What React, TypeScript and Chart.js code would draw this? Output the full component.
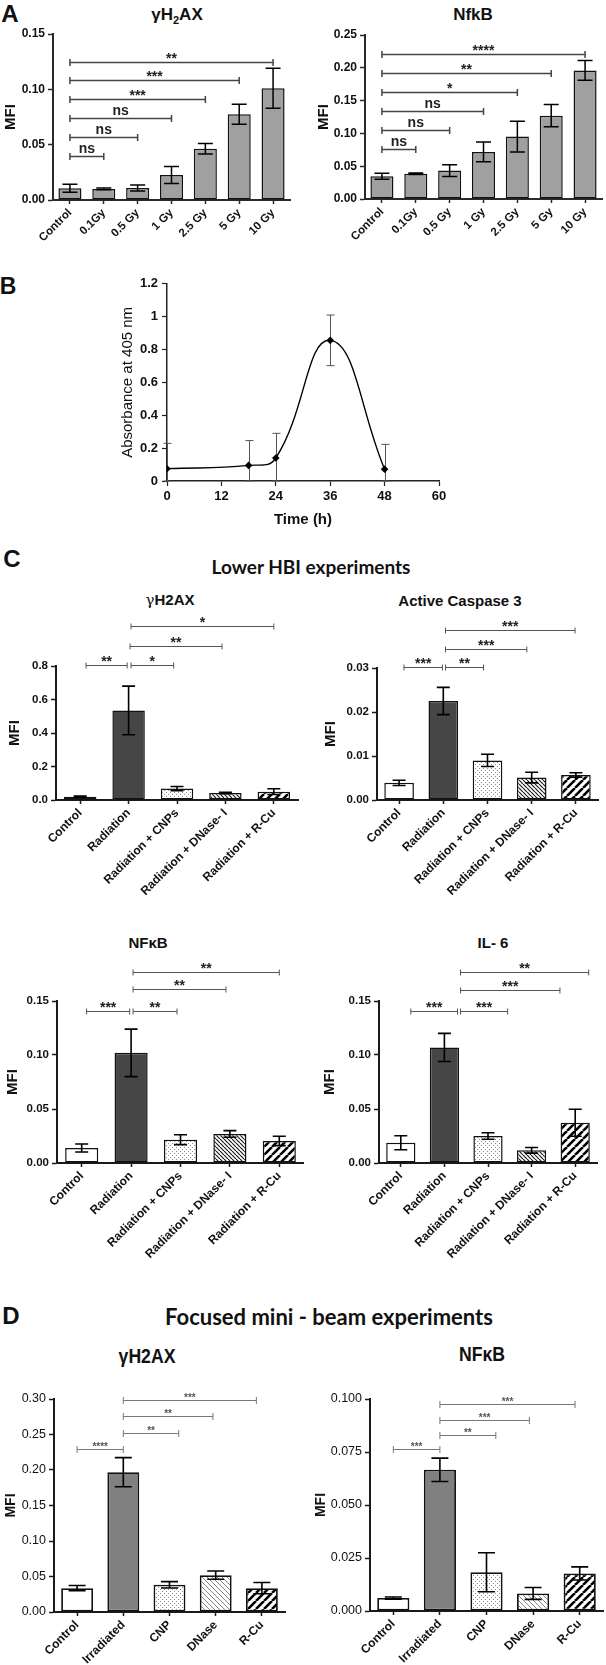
import React, { useEffect, useRef } from "react";
import { Chart, registerables } from "chart.js";

Chart.register(...registerables);

type Sig = [number, number, number, string];

// ===== Panel A data =====
const A_DOSES = ["Control", "0.1Gy", "0.5 Gy", "1 Gy", "2.5 Gy", "5 Gy", "10 Gy"];
const A_H2AX_MFI = [0.0106, 0.01, 0.0108, 0.0225, 0.0463, 0.0775, 0.101];
const A_H2AX_SEM = [0.0036, 0.0008, 0.0027, 0.0077, 0.0047, 0.009, 0.018];
const A_H2AX_YTICKS = ["0.00", "0.05", "0.10", "0.15"];
const A_H2AX_SIG: Sig[] = [
  [0, 1, 0.04, "ns"],
  [0, 2, 0.057, "ns"],
  [0, 3, 0.074, "ns"],
  [0, 4, 0.0915, "***"],
  [0, 5, 0.1085, "***"],
  [0, 6, 0.125, "**"],
];
const A_NFKB_MFI = [0.0346, 0.0385, 0.0433, 0.0718, 0.0952, 0.127, 0.196];
const A_NFKB_SEM = [0.0045, 0.001, 0.009, 0.015, 0.0235, 0.017, 0.015];
const A_NFKB_YTICKS = ["0.00", "0.05", "0.10", "0.15", "0.20", "0.25"];
const A_NFKB_SIG: Sig[] = [
  [0, 1, 0.0764, "ns"],
  [0, 2, 0.105, "ns"],
  [0, 3, 0.134, "ns"],
  [0, 4, 0.163, "*"],
  [0, 5, 0.1925, "**"],
  [0, 6, 0.2205, "****"],
];

// ===== Panel B data =====
const B_TIME_H = [0, 18, 24, 36, 48];
const B_ABSORBANCE = [0.075, 0.095, 0.14, 0.856, 0.072];
const B_ABS_ERR = [0.154, 0.151, 0.15, 0.154, 0.151];
const B_XTICKS = ["0", "12", "24", "36", "48", "60"];
const B_YTICKS = ["0", "0.2", "0.4", "0.6", "0.8", "1", "1.2"];

// ===== Panel C data =====
const C_GROUPS = ["Control", "Radiation", "Radiation + CNPs", "Radiation + DNase- I", "Radiation + R-Cu"];
const C_H2AX_MFI = [0.02, 0.535, 0.068, 0.042, 0.05];
const C_H2AX_SEM = [0.004, 0.145, 0.013, 0.004, 0.017];
const C_H2AX_YTICKS = ["0.0", "0.2", "0.4", "0.6", "0.8"];
const C_H2AX_SIG: Sig[] = [
  [0.12, 0.97, 0.806, "**"],
  [1.05, 1.93, 0.806, "*"],
  [1.03, 2.93, 0.922, "**"],
  [1.05, 4.0, 1.041, "*"],
];
const C_CASP3_MFI = [0.0039, 0.0225, 0.009, 0.0051, 0.0057];
const C_CASP3_SEM = [0.0006, 0.0031, 0.0014, 0.0012, 0.0005];
const C_CASP3_YTICKS = ["0.00", "0.01", "0.02", "0.03"];
const C_CASP3_SIG: Sig[] = [
  [0.11, 0.98, 0.0302, "***"],
  [1.05, 1.91, 0.0302, "**"],
  [1.05, 2.89, 0.0343, "***"],
  [1.05, 3.98, 0.0387, "***"],
];
const C_NFKB_MFI = [0.0139, 0.102, 0.0216, 0.0269, 0.0204];
const C_NFKB_SEM = [0.0037, 0.022, 0.0046, 0.0031, 0.0043];
const C_NFKB_YTICKS = ["0.00", "0.05", "0.10", "0.15"];
const C_NFKB_SIG: Sig[] = [
  [0.1, 0.97, 0.141, "***"],
  [1.04, 1.93, 0.141, "**"],
  [1.04, 2.92, 0.161, "**"],
  [1.04, 4.0, 0.177, "**"],
];
const C_IL6_MFI = [0.0188, 0.107, 0.025, 0.0117, 0.0373];
const C_IL6_SEM = [0.0065, 0.013, 0.003, 0.0026, 0.0125];
const C_IL6_YTICKS = ["0.00", "0.05", "0.10", "0.15"];
const C_IL6_SIG: Sig[] = [
  [0.23, 1.3, 0.141, "***"],
  [1.37, 2.45, 0.141, "***"],
  [1.37, 3.65, 0.16, "***"],
  [1.37, 4.31, 0.177, "**"],
];

// ===== Panel D data =====
const D_GROUPS = ["Control", "Irradiated", "CNP", "DNase", "R-Cu"];
const D_H2AX_MFI = [0.0336, 0.197, 0.0383, 0.0519, 0.0336];
const D_H2AX_SEM = [0.0037, 0.0205, 0.0045, 0.0058, 0.008];
const D_H2AX_YTICKS = ["0.00", "0.05", "0.10", "0.15", "0.20", "0.25", "0.30"];
const D_H2AX_SIG: Sig[] = [
  [0, 1, 0.23, "****"],
  [1, 2.2, 0.252, "**"],
  [1, 2.94, 0.276, "**"],
  [1, 3.88, 0.299, "***"],
];
const D_NFKB_MFI = [0.0061, 0.0666, 0.0183, 0.0083, 0.0177];
const D_NFKB_SEM = [0.0005, 0.0055, 0.0092, 0.0028, 0.0031];
const D_NFKB_YTICKS = ["0.000", "0.025", "0.050", "0.075", "0.100"];
const D_NFKB_SIG: Sig[] = [
  [0, 1, 0.0765, "***"],
  [1, 2.2, 0.0832, "**"],
  [1, 2.92, 0.09, "***"],
  [1, 3.9, 0.0976, "***"],
];

// ===== Styles =====
const SANS = '"Liberation Sans", Arial, sans-serif';
const NARROW = '"Liberation Sans Narrow", "Liberation Sans", Arial, sans-serif';
const LATO = 'Lato, "Open Sans", sans-serif';

const A_FILLS = ["grey", "grey", "grey", "grey", "grey", "grey", "grey"];
const C_FILLS = ["white", "dark", "dots", "hatchDense", "hatchBold"];
const D_FILLS = ["white", "mid", "dots", "hatchLight", "hatchBold"];

function makeFill(key: string): any {
  if (key === "grey") return "#a0a0a0";
  if (key === "white") return "#ffffff";
  if (key === "dark") return "#464646";
  if (key === "mid") return "#808080";
  const s = key === "dots" ? 4 : key === "hatchDense" ? 4 : key === "hatchLight" ? 5 : 8;
  const c = document.createElement("canvas");
  c.width = s;
  c.height = s;
  const g = c.getContext("2d")!;
  g.fillStyle = "#fff";
  g.fillRect(0, 0, s, s);
  if (key === "dots") {
    g.fillStyle = "#8c8c8c";
    g.fillRect(0, 0, 1, 1);
    g.fillRect(2, 2, 1, 1);
  } else {
    const back = key !== "hatchBold";
    g.strokeStyle = key === "hatchDense" ? "#1c1c1c" : key === "hatchLight" ? "#858585" : "#000";
    g.lineWidth = key === "hatchDense" ? 1.2 : key === "hatchLight" ? 1 : 2.6;
    g.beginPath();
    for (let k = -1; k <= 1; k++) {
      if (back) {
        g.moveTo(k * s, 0);
        g.lineTo(k * s + s, s);
      } else {
        g.moveTo(k * s, s);
        g.lineTo(k * s + s, 0);
      }
    }
    g.stroke();
  }
  return g.createPattern(c, "repeat");
}

type BarStyle = {
  plot: [number, number, number, number];
  yW: number;
  padTop: number;
  padRight: number;
  xH: number;
  yTitleX: number;
  yTickFont: any;
  xTickFont: any;
  yTitleFont: any;
  barPct: number;
  barBorder: number;
  axisW: number;
  axisColor: string;
  capW: number;
  errW: number;
  sigLine: string;
  sigW: number;
  sigText: string;
  sigFont: string;
  sigTick: number;
  sigLift: number;
  nsLift: number;
};

const A_BASE = {
  yTickFont: { family: SANS, weight: "bold", size: 12 },
  xTickFont: { family: SANS, weight: "bold", size: 11.5 },
  yTitleFont: { family: SANS, weight: "bold", size: 15 },
  barPct: 0.68,
  barBorder: 1.5,
  axisW: 2,
  axisColor: "#2a2a2a",
  capW: 15,
  errW: 1.5,
  sigLine: "#444",
  sigW: 1.5,
  sigText: "#222",
  sigFont: `bold 14px ${SANS}`,
  sigTick: 3.5,
  sigLift: 0,
  nsLift: 4,
};
const C_BASE = {
  yTickFont: { family: SANS, weight: "bold", size: 11.5 },
  xTickFont: { family: SANS, weight: "bold", size: 12 },
  yTitleFont: { family: SANS, weight: "bold", size: 15 },
  barPct: 0.67,
  barBorder: 1.5,
  axisW: 2,
  axisColor: "#1a1a1a",
  capW: 13,
  errW: 1.6,
  sigLine: "#555",
  sigW: 1,
  sigText: "#222",
  sigFont: `bold 14px ${SANS}`,
  sigTick: 3,
  sigLift: 0,
  nsLift: 4,
};
const D_BASE = {
  yTickFont: { family: SANS, weight: "normal", size: 12.5 },
  xTickFont: { family: SANS, weight: "bold", size: 12 },
  yTitleFont: { family: SANS, weight: "bold", size: 14 },
  barPct: 0.69,
  barBorder: 1.8,
  axisW: 2,
  axisColor: "#1a1a1a",
  capW: 17,
  errW: 1.6,
  sigLine: "#777",
  sigW: 1,
  sigText: "#555",
  sigFont: `bold 10px ${SANS}`,
  sigTick: 3.5,
  sigLift: 0,
  nsLift: 3,
};

const ST_A1: BarStyle = { ...A_BASE, plot: [53, 34, 290, 200], yW: 53, padTop: 12, padRight: 8, xH: 50, yTitleX: 11 } as BarStyle;
const ST_A2: BarStyle = { ...A_BASE, plot: [365, 35, 602, 199], yW: 60, padTop: 12, padRight: 4, xH: 50, yTitleX: 324 } as BarStyle;
const ST_C1: BarStyle = { ...C_BASE, plot: [56, 666, 298, 800], yW: 56, padTop: 56, padRight: 5, xH: 100, yTitleX: 15 } as BarStyle;
const ST_C2: BarStyle = { ...C_BASE, plot: [377, 668, 598, 800], yW: 74, padTop: 56, padRight: 6, xH: 100, yTitleX: 331 } as BarStyle;
const ST_C3: BarStyle = { ...C_BASE, plot: [57, 1001, 304, 1163], yW: 57, padTop: 46, padRight: 0, xH: 100, yTitleX: 13 } as BarStyle;
const ST_C4: BarStyle = { ...C_BASE, plot: [379, 1001, 597, 1163], yW: 76, padTop: 46, padRight: 8, xH: 100, yTitleX: 330 } as BarStyle;
const ST_D1: BarStyle = { ...D_BASE, plot: [54, 1399, 285, 1612], yW: 54, padTop: 14, padRight: 10, xH: 52, yTitleX: 11 } as BarStyle;
const ST_D2: BarStyle = { ...D_BASE, plot: [370, 1399, 603, 1611], yW: 67, padTop: 14, padRight: 3, xH: 53, yTitleX: 321 } as BarStyle;

function BarChart(props: {
  labels: string[];
  values: number[];
  sem: number[];
  yTicks: string[];
  sig: Sig[];
  fills: string[];
  st: BarStyle;
}) {
  const { labels, values, sem, yTicks, sig, fills, st } = props;
  const ref = useRef<HTMLCanvasElement>(null);
  const [L, T, R, B] = st.plot;
  const left = L - st.yW;
  const top = T - st.padTop;
  const w = R - L + st.yW + st.padRight;
  const h = B - T + st.padTop + st.xH;

  useEffect(() => {
    const canvas = ref.current!;
    const bg = fills.map(makeFill);
    const yMax = parseFloat(yTicks[yTicks.length - 1]);
    const lh = st.yTitleFont.size * 1.2;
    const overlay = {
      id: "overlay",
      afterDatasetsDraw(chart: any) {
        const ctx = chart.ctx;
        const xs = chart.scales.x;
        const ys = chart.scales.y;
        ctx.save();
        ctx.strokeStyle = "#000";
        ctx.lineWidth = st.errW;
        values.forEach((v, i) => {
          const px = xs.getPixelForValue(i);
          const pHi = ys.getPixelForValue(v + sem[i]);
          const pLo = ys.getPixelForValue(Math.max(0, v - sem[i]));
          const hc = st.capW / 2;
          ctx.beginPath();
          ctx.moveTo(px, pHi);
          ctx.lineTo(px, pLo);
          ctx.moveTo(px - hc, pHi);
          ctx.lineTo(px + hc, pHi);
          ctx.moveTo(px - hc, pLo);
          ctx.lineTo(px + hc, pLo);
          ctx.stroke();
        });
        ctx.strokeStyle = st.sigLine;
        ctx.lineWidth = st.sigW;
        ctx.fillStyle = st.sigText;
        ctx.font = st.sigFont;
        ctx.textAlign = "center";
        ctx.textBaseline = "alphabetic";
        sig.forEach(([a, b, yv, lab]) => {
          const x1 = xs.getPixelForValue(a);
          const x2 = xs.getPixelForValue(b);
          const py = Math.round(ys.getPixelForValue(yv)) + 0.5;
          ctx.beginPath();
          ctx.moveTo(x1, py);
          ctx.lineTo(x2, py);
          ctx.moveTo(x1, py - st.sigTick);
          ctx.lineTo(x1, py + st.sigTick);
          ctx.moveTo(x2, py - st.sigTick);
          ctx.lineTo(x2, py + st.sigTick);
          ctx.stroke();
          const lift = lab === "ns" ? st.nsLift : st.sigLift;
          ctx.fillText(lab, (x1 + x2) / 2, py - lift);
        });
        ctx.restore();
      },
    };
    const chart = new Chart(canvas, {
      type: "bar",
      data: {
        labels,
        datasets: [
          {
            data: values,
            backgroundColor: bg,
            borderColor: "#111",
            borderWidth: st.barBorder,
            borderSkipped: false,
            barPercentage: st.barPct,
            categoryPercentage: 1,
          } as any,
        ],
      },
      options: {
        responsive: false,
        animation: false,
        devicePixelRatio: 1,
        layout: { padding: { top: st.padTop, right: st.padRight, left: 0, bottom: 0 } },
        plugins: { legend: { display: false }, tooltip: { enabled: false } },
        scales: {
          x: {
            type: "category",
            offset: true,
            grid: {
              display: true,
              offset: false,
              drawOnChartArea: false,
              drawTicks: true,
              tickLength: 4,
              tickColor: st.axisColor,
              tickWidth: 1.5,
            },
            border: { display: true, color: st.axisColor, width: st.axisW },
            ticks: {
              autoSkip: false,
              minRotation: 45,
              maxRotation: 45,
              font: st.xTickFont,
              color: "#111",
              padding: 2,
            },
            afterFit: (s: any) => {
              s.height = st.xH;
            },
          },
          y: {
            type: "linear",
            min: 0,
            max: yMax,
            grid: {
              display: true,
              drawOnChartArea: false,
              drawTicks: true,
              tickLength: 5,
              tickColor: st.axisColor,
              tickWidth: 1.5,
            },
            border: { display: true, color: st.axisColor, width: st.axisW },
            ticks: {
              font: st.yTickFont,
              color: "#111",
              padding: 3,
              callback: (_v: any, i: number) => yTicks[i],
            },
            afterBuildTicks: (s: any) => {
              s.ticks = yTicks.map((t) => ({ value: parseFloat(t) }));
            },
            afterFit: (s: any) => {
              s.width = st.yW;
            },
            title: {
              display: true,
              text: "MFI",
              font: st.yTitleFont,
              color: "#111",
              padding: { top: st.yTitleX - left - lh / 2, bottom: 0 },
            },
          },
        },
      } as any,
      plugins: [overlay as any],
    });
    return () => chart.destroy();
  }, []);

  return (
    <canvas
      ref={ref}
      width={w}
      height={h}
      style={{ position: "absolute", left, top, width: w, height: h }}
    />
  );
}

function AbsorbanceChart() {
  const ref = useRef<HTMLCanvasElement>(null);
  const L = 167, T = 282, R = 439, B = 481;
  const yW = 60, padTop = 10, padRight = 20, xH = 50;
  const left = L - yW;
  const top = T - padTop;
  const w = R - L + yW + padRight;
  const h = B - T + padTop + xH;

  useEffect(() => {
    const canvas = ref.current!;
    const errPlugin = {
      id: "errB",
      beforeDatasetsDraw(chart: any) {
        const ctx = chart.ctx;
        const xs = chart.scales.x;
        const ys = chart.scales.y;
        ctx.save();
        ctx.strokeStyle = "#555";
        ctx.lineWidth = 1;
        B_TIME_H.forEach((t, i) => {
          const px = Math.round(xs.getPixelForValue(t)) + 0.5;
          const hi = ys.getPixelForValue(B_ABSORBANCE[i] + B_ABS_ERR[i]);
          const lo = ys.getPixelForValue(Math.max(0, B_ABSORBANCE[i] - B_ABS_ERR[i]));
          ctx.beginPath();
          ctx.moveTo(px, hi);
          ctx.lineTo(px, lo);
          ctx.moveTo(px - 4, hi);
          ctx.lineTo(px + 4, hi);
          ctx.moveTo(px - 4, lo);
          ctx.lineTo(px + 4, lo);
          ctx.stroke();
        });
        ctx.restore();
      },
    };
    const tickFont = { family: NARROW, weight: "bold", size: 13 };
    const chart = new Chart(canvas, {
      type: "line",
      data: {
        datasets: [
          {
            data: B_TIME_H.map((t, i) => ({ x: t, y: B_ABSORBANCE[i] })),
            borderColor: "#000",
            borderWidth: 1.4,
            tension: 0.45,
            pointStyle: "rectRot",
            pointRadius: 3.8,
            pointBackgroundColor: "#000",
            pointBorderColor: "#000",
            pointBorderWidth: 0,
            fill: false,
          } as any,
        ],
      },
      options: {
        responsive: false,
        animation: false,
        devicePixelRatio: 1,
        layout: { padding: { top: padTop, right: padRight, left: 0, bottom: 0 } },
        plugins: { legend: { display: false }, tooltip: { enabled: false } },
        scales: {
          x: {
            type: "linear",
            min: 0,
            max: 60,
            afterBuildTicks: (s: any) => {
              s.ticks = B_XTICKS.map((t) => ({ value: parseFloat(t) }));
            },
            ticks: {
              callback: (_v: any, i: number) => B_XTICKS[i],
              font: tickFont,
              color: "#111",
              padding: 3,
            },
            grid: {
              display: true,
              drawOnChartArea: false,
              drawTicks: true,
              tickLength: 5,
              tickColor: "#222",
              tickWidth: 1.2,
            },
            border: { display: true, color: "#222", width: 1.5 },
            title: {
              display: true,
              text: "Time (h)",
              font: { family: NARROW, weight: "bold", size: 15 },
              color: "#111",
              padding: { top: 0, bottom: 2 },
            },
            afterFit: (s: any) => {
              s.height = xH;
            },
          },
          y: {
            type: "linear",
            min: 0,
            max: 1.2,
            afterBuildTicks: (s: any) => {
              s.ticks = B_YTICKS.map((t) => ({ value: parseFloat(t) }));
            },
            ticks: {
              callback: (_v: any, i: number) => B_YTICKS[i],
              font: tickFont,
              color: "#111",
              padding: 4,
            },
            grid: {
              display: true,
              drawOnChartArea: false,
              drawTicks: true,
              tickLength: 5,
              tickColor: "#222",
              tickWidth: 1.2,
            },
            border: { display: true, color: "#222", width: 1.5 },
            title: {
              display: true,
              text: "Absorbance at 405 nm",
              font: { family: SANS, weight: "normal", size: 15 },
              color: "#111",
              padding: { top: 128 - (L - yW) - 9, bottom: 0 },
            },
            afterFit: (s: any) => {
              s.width = yW;
            },
          },
        },
      } as any,
      plugins: [errPlugin as any],
    });
    return () => chart.destroy();
  }, []);

  return (
    <canvas
      ref={ref}
      width={w}
      height={h}
      style={{ position: "absolute", left, top, width: w, height: h }}
    />
  );
}

function Txt(props: { x: number; y: number; size: number; family?: string; weight?: any; children: any; color?: string; sx?: number }) {
  const { x, y, size, family = SANS, weight = "bold", children, color = "#111", sx = 1 } = props;
  return (
    <div
      style={{
        position: "absolute",
        left: x,
        top: y,
        transform: `translate(-50%,-50%) scaleX(${sx})`,
        fontFamily: family,
        fontWeight: weight,
        fontSize: size,
        lineHeight: 1,
        color,
        whiteSpace: "nowrap",
      }}
    >
      {children}
    </div>
  );
}

export default function App() {
  return (
    <div
      style={{
        position: "absolute",
        left: 0,
        top: 0,
        width: 606,
        height: 1665,
        background: "#fff",
        overflow: "hidden",
      }}
    >
      {/* Panel A */}
      <Txt x={10} y={14} size={24}>A</Txt>
      <Txt x={177} y={14} size={17}>
        γH<span style={{ fontSize: 11, position: "relative", top: 4 }}>2</span>AX
      </Txt>
      <Txt x={473} y={14} size={17}>NfkB</Txt>
      <BarChart labels={A_DOSES} values={A_H2AX_MFI} sem={A_H2AX_SEM} yTicks={A_H2AX_YTICKS} sig={A_H2AX_SIG} fills={A_FILLS} st={ST_A1} />
      <BarChart labels={A_DOSES} values={A_NFKB_MFI} sem={A_NFKB_SEM} yTicks={A_NFKB_YTICKS} sig={A_NFKB_SIG} fills={A_FILLS} st={ST_A2} />

      {/* Panel B */}
      <Txt x={8} y={286} size={23}>B</Txt>
      <AbsorbanceChart />

      {/* Panel C */}
      <Txt x={12} y={559} size={24}>C</Txt>
      <Txt x={311} y={566} size={19} family={LATO}>Lower HBI experiments</Txt>
      <Txt x={170} y={600} size={15}>
        <span style={{ fontFamily: '"DejaVu Serif", serif', fontWeight: "normal" }}>γ</span>H2AX
      </Txt>
      <Txt x={460} y={600} size={15}>Active Caspase 3</Txt>
      <Txt x={148} y={942} size={15}>NFκB</Txt>
      <Txt x={493} y={942} size={15}>IL- 6</Txt>
      <BarChart labels={C_GROUPS} values={C_H2AX_MFI} sem={C_H2AX_SEM} yTicks={C_H2AX_YTICKS} sig={C_H2AX_SIG} fills={C_FILLS} st={ST_C1} />
      <BarChart labels={C_GROUPS} values={C_CASP3_MFI} sem={C_CASP3_SEM} yTicks={C_CASP3_YTICKS} sig={C_CASP3_SIG} fills={C_FILLS} st={ST_C2} />
      <BarChart labels={C_GROUPS} values={C_NFKB_MFI} sem={C_NFKB_SEM} yTicks={C_NFKB_YTICKS} sig={C_NFKB_SIG} fills={C_FILLS} st={ST_C3} />
      <BarChart labels={C_GROUPS} values={C_IL6_MFI} sem={C_IL6_SEM} yTicks={C_IL6_YTICKS} sig={C_IL6_SIG} fills={C_FILLS} st={ST_C4} />

      {/* Panel D */}
      <Txt x={11} y={1316} size={24}>D</Txt>
      <Txt x={329} y={1317} size={22} family={LATO}>Focused mini - beam experiments</Txt>
      <Txt x={147} y={1355} size={21} sx={0.84}>γH2AX</Txt>
      <Txt x={482} y={1353} size={21} sx={0.84}>NFκB</Txt>
      <BarChart labels={D_GROUPS} values={D_H2AX_MFI} sem={D_H2AX_SEM} yTicks={D_H2AX_YTICKS} sig={D_H2AX_SIG} fills={D_FILLS} st={ST_D1} />
      <BarChart labels={D_GROUPS} values={D_NFKB_MFI} sem={D_NFKB_SEM} yTicks={D_NFKB_YTICKS} sig={D_NFKB_SIG} fills={D_FILLS} st={ST_D2} />
    </div>
  );
}
